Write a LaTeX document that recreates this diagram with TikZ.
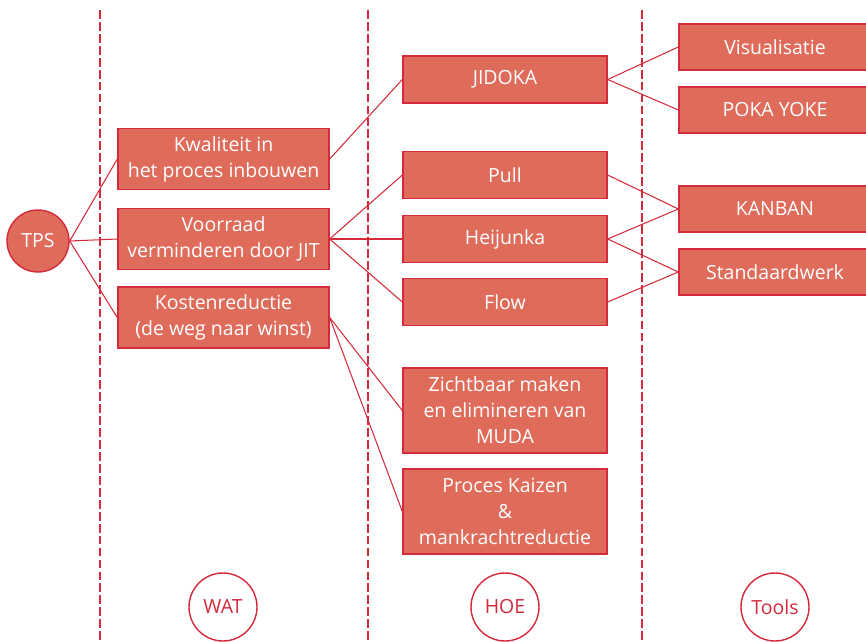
\documentclass[tikz,border=0pt]{standalone}
\usepackage{fontspec}
\setmainfont{Open Sans}
\usepackage{tikz}
\usetikzlibrary{shapes.geometric}
\definecolor{boxfill}{HTML}{DF6B5B}
\definecolor{tpsred}{HTML}{D42A3C}
\begin{document}
\begin{tikzpicture}[
  x=0.02cm, y=-0.02cm,
  font=\fontsize{11.1}{14.8}\selectfont,
  block/.style={draw=tpsred, line width=0.8pt, fill=boxfill, text=white, align=center, inner sep=1pt, minimum width=4.08cm, minimum height=0.94cm},
  wide/.style={block, minimum width=4.22cm, minimum height=1.22cm},
  tall/.style={block, minimum height=1.7cm},
  tool/.style={block, minimum width=3.84cm, minimum height=0.92cm},
  lane/.style={draw=tpsred, line width=0.6pt, dash pattern=on 5pt off 1.8pt},
  link/.style={draw=tpsred, line width=0.6pt},
  tag/.style={draw=tpsred, line width=0.8pt, fill=white, text=tpsred, ellipse, inner sep=0pt, minimum width=1.36cm, minimum height=1.36cm}
]
\useasboundingbox (0,0) rectangle (866,642);
\draw[lane] (100,10) -- (100,642);
\draw[lane] (368,10) -- (368,642);
\draw[lane] (642,10) -- (642,642);

\node[circle, draw=tpsred, line width=0.8pt, fill=boxfill, text=white, inner sep=0pt, minimum size=1.24cm] (tps) at (38,241) {TPS};

\node[wide] (kwal) at (223.5,159) {Kwaliteit in\\het proces inbouwen};
\node[wide] (voor) at (223.5,239) {Voorraad\\verminderen door JIT};
\node[wide] (kost) at (223.5,317.5) {Kostenreductie\\(de weg naar winst)};

\node[block] (jid) at (505,79.5) {JIDOKA};
\node[block] (pull) at (505,175) {Pull};
\node[block] (heij) at (505,239) {Heijunka};
\node[block] (flow) at (505,302) {Flow};
\node[tall] (muda) at (505,410.5) {Zichtbaar maken\\en elimineren van\\MUDA};
\node[tall] (kaiz) at (505,511.5) {Proces Kaizen\\\&\\mankrachtreductie};

\node[tool] (vis) at (775,47) {Visualisatie};
\node[tool] (poka) at (775,110) {POKA YOKE};
\node[tool] (kanb) at (775,209) {KANBAN};
\node[tool] (std) at (775,272) {Standaardwerk};

\node[tag] (wat) at (223,607) {WAT};
\node[tag] (hoe) at (505,607) {HOE};
\node[tag] (tools) at (775,607) {Tools};

\draw[link] (tps.east) -- (kwal.west);
\draw[link] (tps.east) -- (voor.west);
\draw[link] (tps.east) -- (kost.west);
\draw[link] (kwal.east) -- (jid.west);
\draw[link] (voor.east) -- (pull.west);
\draw[link] (voor.east) -- (heij.west);
\draw[link] (voor.east) -- (flow.west);
\draw[link] (kost.east) -- (muda.west);
\draw[link] (kost.east) -- (kaiz.west);
\draw[link] (jid.east) -- (vis.west);
\draw[link] (jid.east) -- (poka.west);
\draw[link] (pull.east) -- (kanb.west);
\draw[link] (heij.east) -- (kanb.west);
\draw[link] (heij.east) -- (std.west);
\draw[link] (flow.east) -- (std.west);
\end{tikzpicture}
\end{document}
